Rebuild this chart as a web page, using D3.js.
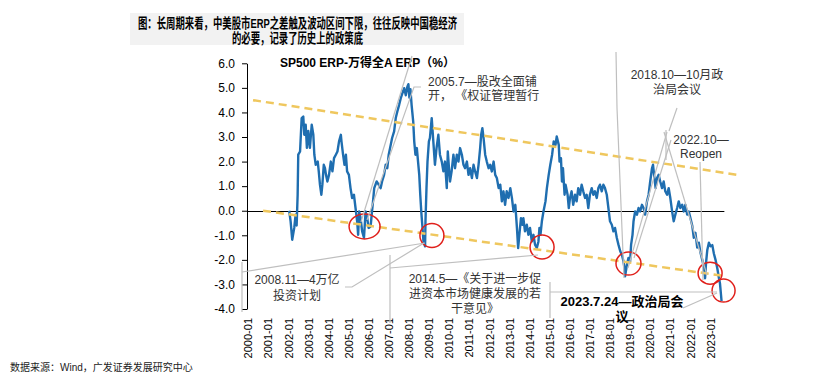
<!DOCTYPE html>
<html>
<head>
<meta charset="utf-8">
<script src="https://cdn.jsdelivr.net/npm/d3@7"></script>
<style>
body { margin: 0; background: #fff; }
text { font-family: "Liberation Sans", Arial, "Noto Sans CJK SC", sans-serif; }
</style>
</head>
<body>
<svg id="chart" width="831" height="374"></svg>
<script>
// SP500 ERP - 万得全A ERP (%) (decimal years)
var erpDates = [
  2002.05, 2002.12, 2002.2, 2002.3, 2002.37, 2002.42, 2002.47, 2002.5, 2002.59, 2002.67,
  2002.75, 2002.8, 2002.87, 2002.93, 2003.0, 2003.08, 2003.17, 2003.25, 2003.3, 2003.37,
  2003.47, 2003.52, 2003.58, 2003.65, 2003.7, 2003.77, 2003.83, 2003.88, 2003.95, 2004.03,
  2004.12, 2004.2, 2004.28, 2004.37, 2004.45, 2004.53, 2004.62, 2004.65, 2004.73, 2004.8,
  2004.87, 2004.93, 2005.02, 2005.1, 2005.18, 2005.27, 2005.35, 2005.43, 2005.48, 2005.53,
  2005.6, 2005.68, 2005.77, 2005.85, 2005.93, 2006.0, 2006.1, 2006.17, 2006.22, 2006.28,
  2006.4, 2006.5, 2006.6, 2006.67, 2006.77, 2006.85, 2006.93, 2007.0, 2007.1, 2007.17,
  2007.27, 2007.35, 2007.43, 2007.52, 2007.6, 2007.68, 2007.77, 2007.85, 2007.93, 2007.98,
  2008.03, 2008.08, 2008.14, 2008.22, 2008.27, 2008.33, 2008.4, 2008.46, 2008.52, 2008.57,
  2008.62, 2008.67, 2008.73, 2008.81, 2008.83, 2008.88, 2008.93, 2009.0, 2009.05, 2009.14,
  2009.22, 2009.3, 2009.38, 2009.47, 2009.55, 2009.64, 2009.72, 2009.8, 2009.89, 2009.94,
  2010.0, 2010.05, 2010.13, 2010.22, 2010.3, 2010.39, 2010.47, 2010.55, 2010.64, 2010.72,
  2010.8, 2010.89, 2010.97, 2011.05, 2011.14, 2011.22, 2011.3, 2011.39, 2011.47, 2011.55,
  2011.6, 2011.66, 2011.72, 2011.8, 2011.88, 2011.97, 2012.05, 2012.13, 2012.22, 2012.3,
  2012.38, 2012.47, 2012.55, 2012.63, 2012.71, 2012.79, 2012.87, 2012.96, 2013.05, 2013.13,
  2013.21, 2013.3, 2013.38, 2013.44, 2013.5, 2013.58, 2013.65, 2013.7, 2013.78, 2013.87,
  2013.95, 2014.03, 2014.12, 2014.2, 2014.28, 2014.37, 2014.45, 2014.5, 2014.55, 2014.62,
  2014.7, 2014.8, 2014.87, 2014.96, 2015.04, 2015.13, 2015.21, 2015.3, 2015.36, 2015.46,
  2015.5, 2015.57, 2015.62, 2015.67, 2015.75, 2015.8, 2015.9, 2015.96, 2016.02, 2016.1,
  2016.18, 2016.27, 2016.35, 2016.43, 2016.52, 2016.6, 2016.68, 2016.77, 2016.85, 2016.93,
  2017.01, 2017.1, 2017.18, 2017.26, 2017.35, 2017.43, 2017.51, 2017.6, 2017.68, 2017.76,
  2017.85, 2017.93, 2018.01, 2018.1, 2018.18, 2018.26, 2018.35, 2018.43, 2018.52, 2018.6,
  2018.68, 2018.73, 2018.76, 2018.85, 2018.93, 2019.01, 2019.06, 2019.13, 2019.18, 2019.26,
  2019.35, 2019.43, 2019.51, 2019.6, 2019.68, 2019.76, 2019.85, 2019.93, 2020.01, 2020.1,
  2020.15, 2020.22, 2020.28, 2020.35, 2020.43, 2020.51, 2020.6, 2020.68, 2020.76, 2020.85,
  2020.93, 2021.01, 2021.1, 2021.18, 2021.26, 2021.35, 2021.43, 2021.51, 2021.6, 2021.68,
  2021.76, 2021.85, 2021.93, 2022.01, 2022.1, 2022.18, 2022.26, 2022.35, 2022.43, 2022.51,
  2022.6, 2022.68, 2022.74, 2022.79, 2022.85, 2022.93, 2023.01, 2023.1, 2023.18, 2023.26,
  2023.35, 2023.43, 2023.48, 2023.53, 2023.56
];
var erpValues = [
  0.0, -0.43, -1.18, -0.7, -0.16, -0.6, 0.65, 2.28, 2.41, 3.77,
  3.83, 3.09, 3.5, 2.56, 3.25, 2.56, 3.5, 3.09, 2.28, 1.87,
  2.0, 1.6, 1.06, 0.65, 1.06, 1.87, 1.73, 1.46, 1.19, 1.46,
  2.0, 1.6, 2.14, 2.28, 2.41, 2.82, 3.09, 2.82, 2.28, 1.87,
  2.28, 1.6, 1.46, 0.92, 0.52, 0.65, 0.11, -0.43, -0.98, -0.03,
  -0.3, -0.84, -1.1, -0.03, -0.3, -0.7, -0.64, -0.03, 0.38, 0.92,
  1.19, 1.06, 0.92, 1.19, 1.46, 1.87, 1.73, 2.28, 2.68, 2.96,
  3.23, 3.77, 4.04, 4.31, 4.58, 4.78, 4.99, 4.7, 5.05, 5.15,
  4.6, 4.95, 4.3, 3.63, 2.82, 2.28, 2.55, 2.0, 1.46, 0.65,
  -0.03, -0.57, -1.25, -1.45, -0.43, 0.92, 2.0, 2.82, 2.96, 3.77,
  2.82, 1.87, 2.55, 3.09, 2.28, 2.0, 1.6, 2.0, 0.92, 2.41,
  1.73, 1.19, 1.6, 2.28, 1.73, 2.28, 2.0, 2.55, 2.28, 1.87,
  1.73, 2.0, 1.46, 1.73, 1.33, 1.87, 1.6, 1.33, 1.87, 2.55,
  3.09, 3.36, 2.96, 2.28, 2.0, 1.73, 1.87, 1.6, 2.0, 1.46,
  1.33, 0.92, 1.06, 0.38, 0.79, 0.24, 0.79, 0.52, 0.92, 0.52,
  -0.03, 0.24, -0.7, -1.52, -0.98, -0.3, -0.57, -0.3, -0.84, -0.57,
  -0.98, -0.7, -1.25, -0.98, -1.38, -1.52, -1.25, -0.7, -0.98, -0.43,
  -0.03, 0.38, 0.92, 1.46, 1.87, 2.28, 2.82, 2.68, 3.02, 2.68,
  2.0, 2.14, 1.19, 1.73, 0.65, 1.06, 0.65, 0.11, 0.52, 0.79,
  0.24, 0.65, 0.38, 0.92, 0.65, 1.06, 0.79, 0.52, 0.65, 0.11,
  0.65, 0.92, 0.65, 0.79, 0.52, 0.92, 1.06, 0.79, 1.06, 0.92,
  0.65, 0.11, -0.43, -0.57, -0.84, -0.7, -1.11, -1.38, -1.65, -1.79,
  -2.06, -2.33, -2.67, -2.2, -1.92, -2.06, -1.38, -0.98, -0.43, -0.03,
  -0.16, 0.11, -0.03, 0.24, 0.11, -0.16, 0.38, 0.65, 1.19, 1.73,
  1.87, 1.33, 0.92, 1.33, 1.46, 1.19, 0.92, 1.19, 0.79, 0.65,
  0.92, 0.52, -0.03, -0.43, -0.16, 0.11, 0.38, 0.11, 0.24, -0.03,
  0.24, -0.16, -0.03, -0.3, -0.6, -1.1, -0.9, -1.5, -1.3, -1.7,
  -2.0, -2.3, -2.75, -2.1, -1.6, -1.3, -1.45, -1.4, -1.75, -2.0,
  -2.35, -2.75, -2.95, -3.4, -3.68
];

// volatility band (dashed), [year, value] at both ends
var upperBand = [[2000.25, 4.5], [2024.4, 1.45]];
var lowerBand = [[2000.75, 0.0], [2023.75, -2.66]];

// red circles around the policy bottoms
var circleYears = [2005.8, 2009.15, 2014.63, 2018.93, 2022.99, 2023.66];
var circleValues = [-0.64, -1.01, -1.48, -2.15, -2.54, -3.25];

var xTickYears = d3.range(2000, 2024);
var yTicks = [6, 5, 4, 3, 2, 1, 0, -1, -2, -3, -4];

var titleLines = ["图：长周期来看，中美股市ERP之差触及波动区间下限，往往反映中国稳经济", "的必要，记录了历史上的政策底"];
var chartTitle = "SP500 ERP-万得全A ERP（%）";
var sourceText = "数据来源：Wind，广发证券发展研究中心";

var svg = d3.select("#chart");

svg.append("rect").attr("width", 831).attr("height", 374).attr("fill", "#fff");

// 标题
svg.append("rect")
  .attr("x", 130).attr("y", 13).attr("width", 334).attr("height", 32)
  .attr("fill", "#f2f2f2");
svg.append("text")
  .attr("x", 297.5).attr("y", 28)
  .attr("text-anchor", "middle")
  .attr("textLength", 319).attr("lengthAdjust", "spacingAndGlyphs")
  .style("font-size", "13.5px").style("font-weight", "bold")
  .text(titleLines[0]);
svg.append("text")
  .attr("x", 297.5).attr("y", 42.5)
  .attr("text-anchor", "middle")
  .attr("textLength", 131).attr("lengthAdjust", "spacingAndGlyphs")
  .style("font-size", "13.5px").style("font-weight", "bold")
  .text(titleLines[1]);

svg.append("text")
  .attr("x", 10).attr("y", 371)
  .style("font-size", "10px").style("fill", "#222")
  .text(sourceText);

var x = d3.scaleLinear().domain([2000, 2024]).range([248, 730.4]);
var y = d3.scaleLinear().domain([-4, 6]).range([309, 63.3]);

// y轴
var yAxis = svg.append("g")
  .attr("transform", "translate(247,0)")
  .call(d3.axisLeft(y).tickValues(yTicks).tickSize(5).tickSizeOuter(0).tickPadding(7)
    .tickFormat(function(d) { return d.toFixed(1); }));
yAxis.selectAll("text").style("font-size", "12px").style("fill", "#000");
yAxis.selectAll("line, path").attr("stroke", "#000");

// x轴 labels (rotated), no domain line
var xAxis = svg.append("g")
  .attr("transform", "translate(0," + y(-4) + ")")
  .call(d3.axisBottom(x).tickValues(xTickYears).tickSize(0).tickPadding(9)
    .tickFormat(function(d) { return d + "-01"; }));
xAxis.select(".domain").remove();
xAxis.selectAll("text")
  .attr("transform", "rotate(-90)")
  .attr("text-anchor", "end")
  .attr("x", -9).attr("y", 0).attr("dy", "0.35em")
  .style("font-size", "11px").style("fill", "#000");

// zero line
var y0 = Math.round(y(0)) + 0.5;
svg.append("line")
  .attr("x1", x(2000)).attr("x2", x(2023.7))
  .attr("y1", y0).attr("y2", y0)
  .attr("stroke", "#000").attr("stroke-width", 1);

// chart title
svg.append("text")
  .attr("x", 280).attr("y", 67)
  .style("font-size", "12px").style("font-weight", "bold")
  .text(chartTitle);

// ERP line
var line = d3.line()
  .x(function(d, i) { return x(erpDates[i]); })
  .y(function(d) { return y(d); });

svg.append("path")
  .datum(erpValues)
  .attr("d", line)
  .attr("fill", "none")
  .attr("stroke", "#1f6eb0")
  .attr("stroke-width", 2.4)
  .attr("stroke-linejoin", "round");

// dashed band lines
var bandLine = d3.line()
  .x(function(d) { return x(d[0]); })
  .y(function(d) { return y(d[1]); });

[upperBand, lowerBand].forEach(function(b) {
  svg.append("path")
    .attr("d", bandLine(b))
    .attr("fill", "none")
    .attr("stroke", "#efc75e")
    .attr("stroke-width", 2.5)
    .attr("stroke-dasharray", "8,5");
});

// circles
var rx = [15.5, 12, 12, 12.5, 12, 11.5];
var ry = [12.5, 12, 12, 11.5, 11, 11.5];
svg.selectAll(".mark")
  .data(circleValues)
  .enter().append("ellipse")
  .attr("class", "mark")
  .attr("cx", function(d, i) { return x(circleYears[i]); })
  .attr("cy", function(d) { return y(d); })
  .attr("rx", function(d, i) { return rx[i]; })
  .attr("ry", function(d, i) { return ry[i]; })
  .attr("fill", "none")
  .attr("stroke", "#e0201b")
  .attr("stroke-width", 1.5);

// 引线 (callout leaders), pixel polylines
var leaders = [
  [[412, 56], [361, 222]],
  [[421, 87], [414, 87], [367, 220]],
  [[345, 287], [352, 287], [424, 243]],
  [[242, 262], [242, 312]],
  [[242, 272], [425, 243]],
  [[390, 255], [390, 323]],
  [[390, 268], [538, 255]],
  [[550, 282], [550, 318]],
  [[550, 292], [717, 292]],
  [[683, 308], [717, 293]],
  [[677, 108], [669, 131]],
  [[666, 130], [666, 160]],
  [[667, 132], [628, 268]],
  [[671, 140], [634, 258]],
  [[664, 132], [707, 275]],
  [[700, 162], [703, 280]],
  [[616, 52], [617, 108], [624, 278]]
];
svg.selectAll(".leader")
  .data(leaders)
  .enter().append("polyline")
  .attr("class", "leader")
  .attr("points", function(d) { return d.map(function(p) { return p.join(","); }).join(" "); })
  .attr("fill", "none")
  .attr("stroke", "#bfbfbf")
  .attr("stroke-width", 1.2);

// annotation texts
var notes = [
  { x: 428, y: 86, anchor: "start", lines: ["2005.7—股改全面铺", "开， 《权证管理暂行"], lh: 14 },
  { x: 297, y: 284, anchor: "middle", lines: ["2008.11—4万亿", "投资计划"], lh: 16 },
  { x: 475, y: 283, anchor: "middle", lines: ["2014.5—《关于进一步促", "进资本市场健康发展的若", "干意见》"], lh: 15 },
  { x: 677, y: 79, anchor: "middle", lines: ["2018.10—10月政", "治局会议"], lh: 15 },
  { x: 701, y: 144, anchor: "middle", lines: ["2022.10—", "Reopen"], lh: 13.5 }
];
notes.forEach(function(n) {
  var t = svg.append("text")
    .attr("text-anchor", n.anchor)
    .style("font-size", "12px").style("fill", "#333");
  n.lines.forEach(function(s, i) {
    t.append("tspan").attr("x", n.x).attr("y", n.y + i * n.lh).text(s);
  });
});

var bold = svg.append("text")
  .attr("text-anchor", "middle")
  .style("font-size", "13px").style("font-weight", "bold").style("fill", "#000");
bold.append("tspan").attr("x", 622).attr("y", 306).text("2023.7.24—政治局会");
bold.append("tspan").attr("x", 622).attr("y", 321).text("议");
</script>
</body>
</html>
